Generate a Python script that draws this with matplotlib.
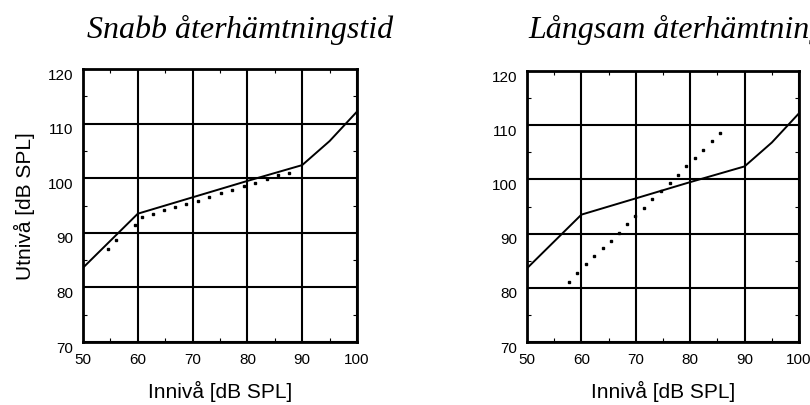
import matplotlib
matplotlib.use("Agg")
import matplotlib.pyplot as plt
from matplotlib.ticker import MultipleLocator
from matplotlib.transforms import ScaledTranslation

# solid input/output curve (same in both panels)
curve_in = [50, 60, 70, 80, 90, 95, 100]
curve_out = [83.6, 93.5, 96.5, 99.5, 102.4, 106.8, 112.2]

# dotted series, fast recovery
fast_in = [54.6, 56.1, 59.5, 60.7, 62.7, 64.8, 66.8, 68.8, 70.9, 73.0, 75.1,
           77.2, 79.3, 81.4, 83.5, 85.6, 87.5]
fast_out = [87.0, 88.6, 91.5, 92.9, 93.4, 94.1, 94.7, 95.3, 95.9, 96.5, 97.3,
            97.9, 98.6, 99.1, 99.9, 100.5, 101.0]

# dotted series, slow recovery
slow_in = [57.8, 59.1, 60.8, 62.4, 63.9, 65.4, 66.9, 68.4, 69.9, 71.5, 73.0,
           74.6, 76.2, 77.7, 79.2, 80.8, 82.3, 84.0, 85.5]
slow_out = [81.1, 82.7, 84.3, 85.8, 87.3, 88.7, 90.2, 91.8, 93.3, 94.7, 96.4,
            97.9, 99.3, 100.8, 102.4, 103.9, 105.4, 107.0, 108.5]

titles = ["Snabb återhämtningstid", "Långsam återhämtningstid"]
xlabel = "Innivå [dB SPL]"
ylabel = "Utnivå [dB SPL]"

plt.rcParams["font.family"] = ["Liberation Sans", "DejaVu Sans"]

fig = plt.figure(figsize=(8.1, 4.06), dpi=100)
W, H = 810, 406
ax_boxes = [(83, 70, 357, 343), (527, 72, 799, 343)]
dotted = [(fast_in, fast_out), (slow_in, slow_out)]
title_x = [87, 528]

for i, (x0, y0, x1, y1) in enumerate(ax_boxes):
    ax = fig.add_axes([x0 / W, 1 - y1 / H, (x1 - x0) / W, (y1 - y0) / H])
    ax.set_xlim(50, 100)
    ax.set_ylim(70, 120)
    ax.xaxis.set_major_locator(MultipleLocator(10))
    ax.yaxis.set_major_locator(MultipleLocator(10))
    ax.xaxis.set_minor_locator(MultipleLocator(5))
    ax.yaxis.set_minor_locator(MultipleLocator(5))
    ax.grid(True, which="major", color="black", linewidth=1.5)
    ax.tick_params(which="major", length=0, labelsize=11, pad=7)
    ax.tick_params(which="minor", direction="in", length=3, width=0.8,
                   top=True, right=True)
    for s in ax.spines.values():
        s.set_linewidth(2.0)
    ax.plot(curve_in, curve_out, color="black", linewidth=1.4)
    dx, dy = dotted[i]
    ax.plot(dx, dy, linestyle="none", marker="s", markersize=1.5,
            color="black")
    ax.set_xlabel(xlabel, fontsize=15, labelpad=10)
    if i == 0:
        ax.set_ylabel(ylabel, fontsize=15, labelpad=9)
    ax.set_axisbelow(True)
    shift = ScaledTranslation(0, -3 / 72, fig.dpi_scale_trans)
    for lab in ax.get_yticklabels():
        lab.set_transform(lab.get_transform() + shift)
    fig.text(title_x[i] / W, 1 - 38 / H, titles[i], family="Liberation Serif",
             style="italic", fontsize=23, va="baseline", ha="left")

fig.savefig("out.png", dpi=100)
